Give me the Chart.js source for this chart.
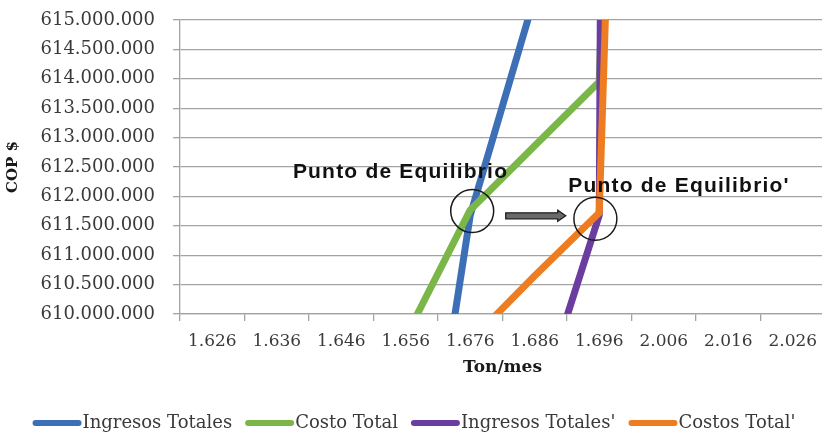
<!DOCTYPE html>
<html lang="es">
<head>
<meta charset="utf-8">
<title>Punto de Equilibrio</title>
<script src="https://cdn.jsdelivr.net/npm/chart.js@4.4.1/dist/chart.umd.min.js"></script>
<style>
  html, body { margin: 0; padding: 0; background: #fff; overflow: hidden; }
  #wrap { width: 822px; height: 434px; overflow: hidden; }
</style>
</head>
<body>
<div id="wrap"><canvas id="equilibrio" width="830" height="434"></canvas></div>
<script>
// Ton/mes (eje de categorías)
var xLabels = ['1.626', '1.636', '1.646', '1.656', '1.676', '1.686', '1.696', '2.006', '2.016', '2.026'];

// COP $ por categoría (null = sin punto)
var ingresosTotales  = [null, null, null, 604570000, 611680000, 615400000, null, null, null, null];
var costoTotal       = [null, null, null, 609610000, 611770000, 612860000, 613950000, 648000000, null, null];
var ingresosTotales2 = [null, null, null, null, null, 608250000, 611680000, 820000000, null, null];
var costosTotal2     = [null, null, null, null, 609540000, 610650000, 611720000, 646500000, null, null];

var yMin = 610000000;
var yMax = 615000000;
var yStep = 500000;

// puntos de equilibrio marcados con círculo [categoría, COP $]
var equilibrio  = [4.03, 611750000];
var equilibrio2 = [5.94, 611620000];

var seriesNames  = ['Ingresos Totales', 'Costo Total', "Ingresos Totales'", "Costos Total'"];
var seriesColors = ['#3D6FB6', '#7AB648', '#6B3D9E', '#EE7D22'];

function fmtCOP(v) {
  return String(Math.round(v)).replace(/\B(?=(\d{3})+(?!\d))/g, '.');
}

function toPoints(arr) {
  return arr.map(function (v, i) { return { x: i, y: v }; });
}

var GRID = '#a3a3a3';
var TICK_COLOR = '#3a3a3a';

// ── anotaciones: textos, círculos y flecha ──────────────────────────
var annotations = {
  id: 'annotations',
  afterDatasetsDraw: function (chart) {
    var ctx = chart.ctx;
    var xs = chart.scales.x, ys = chart.scales.y;
    ctx.save();

    // círculos
    ctx.strokeStyle = '#1a1a1a';
    ctx.lineWidth = 1.5;
    [equilibrio, equilibrio2].forEach(function (p) {
      ctx.beginPath();
      ctx.arc(xs.getPixelForValue(p[0]), ys.getPixelForValue(p[1]), 21.5, 0, Math.PI * 2);
      ctx.stroke();
    });

    // flecha
    var ax1 = xs.getPixelForValue(4.55), ax2 = xs.getPixelForValue(5.48);
    var ay = ys.getPixelForValue(611670000);
    ctx.beginPath();
    ctx.moveTo(ax1, ay - 3);
    ctx.lineTo(ax2 - 8, ay - 3);
    ctx.lineTo(ax2 - 8, ay - 5.5);
    ctx.lineTo(ax2, ay);
    ctx.lineTo(ax2 - 8, ay + 5.5);
    ctx.lineTo(ax2 - 8, ay + 3);
    ctx.lineTo(ax1, ay + 3);
    ctx.closePath();
    ctx.fillStyle = '#6a6a6a';
    ctx.fill();
    ctx.strokeStyle = '#1e1e1e';
    ctx.lineWidth = 1.3;
    ctx.stroke();

    // textos
    ctx.fillStyle = '#111';
    ctx.font = 'bold 21px "Liberation Sans", Arial, sans-serif';
    ctx.letterSpacing = '1.2px';
    ctx.textAlign = 'left';
    ctx.textBaseline = 'alphabetic';
    ctx.fillText('Punto de Equilibrio', xs.getPixelForValue(1.25), ys.getPixelForValue(612310000));
    ctx.fillText("Punto de Equilibrio'", xs.getPixelForValue(5.52), ys.getPixelForValue(612070000));
    ctx.restore();
  }
};

// ── leyenda propia: trazo grueso pegado al texto ────────────────────
var lineLegend = {
  id: 'lineLegend',
  afterDraw: function (chart) {
    var ctx = chart.ctx;
    var swatch = 49, gap = 1, itemGap = 13, y = 423;
    ctx.save();
    ctx.font = '18px "DejaVu Serif", serif';
    var widths = seriesNames.map(function (n) { return swatch + gap + ctx.measureText(n).width; });
    var total = widths.reduce(function (a, b) { return a + b; }, 0) + itemGap * (widths.length - 1);
    var x = 414 - total / 2;
    seriesNames.forEach(function (name, i) {
      ctx.strokeStyle = seriesColors[i];
      ctx.lineWidth = 6;
      ctx.lineCap = 'round';
      ctx.beginPath();
      ctx.moveTo(x + 3, y);
      ctx.lineTo(x + swatch - 3, y);
      ctx.stroke();
      ctx.fillStyle = '#3a3a3a';
      ctx.textBaseline = 'middle';
      ctx.fillText(name, x + swatch + gap, y);
      x += widths[i] + itemGap;
    });
    ctx.restore();
  }
};

var seriesData = [ingresosTotales, costoTotal, ingresosTotales2, costosTotal2];

new Chart(document.getElementById('equilibrio').getContext('2d'), {
  type: 'line',
  data: {
    datasets: seriesData.map(function (arr, i) {
      return {
        label: seriesNames[i],
        data: toPoints(arr),
        borderColor: seriesColors[i],
        backgroundColor: seriesColors[i],
        borderWidth: 7,
        borderJoinStyle: 'round',
        pointRadius: 0,
        fill: false,
        tension: 0,
        clip: 0,
        order: seriesData.length - i
      };
    })
  },
  options: {
    responsive: false,
    animation: false,
    events: [],
    layout: { padding: { top: 20, right: 5, bottom: 50, left: 0 } },
    plugins: {
      legend: { display: false },
      tooltip: { enabled: false }
    },
    scales: {
      x: {
        type: 'linear',
        min: -0.5,
        max: 9.5,
        afterBuildTicks: function (axis) {
          axis.ticks = xLabels.map(function (_, i) { return { value: i }; });
        },
        afterFit: function (axis) {
          axis.height = 70;
          axis.paddingLeft = 0;
          axis.paddingRight = 0;
        },
        grid: { offset: true, drawOnChartArea: false, drawTicks: true, tickLength: 7, color: GRID, lineWidth: 1.3 },
        border: { color: GRID, width: 1.3 },
        ticks: {
          autoSkip: false,
          maxRotation: 0,
          padding: 10,
          color: TICK_COLOR,
          font: { family: '"DejaVu Serif", serif', size: 17 },
          callback: function (v) { return xLabels[v]; }
        },
        title: {
          display: true,
          text: 'Ton/mes',
          color: '#1a1a1a',
          font: { family: '"DejaVu Serif", serif', size: 17, weight: 'bold' },
          padding: { top: 0, bottom: 6 }
        }
      },
      y: {
        min: yMin,
        max: yMax,
        afterFit: function (axis) {
          axis.width = 180;
          axis.paddingTop = 0;
          axis.paddingBottom = 0;
        },
        grid: { color: GRID, lineWidth: 1.3, tickLength: 7 },
        border: { color: GRID, width: 1.3 },
        ticks: {
          stepSize: yStep,
          padding: 18,
          color: TICK_COLOR,
          font: { family: '"DejaVu Serif", serif', size: 18 },
          callback: function (v) { return fmtCOP(v); }
        },
        title: {
          display: true,
          text: 'COP $',
          color: '#1a1a1a',
          font: { family: '"DejaVu Serif", serif', size: 15, weight: 'bold' },
          padding: { top: 4, bottom: 0 }
        }
      }
    }
  },
  plugins: [annotations, lineLegend]
});
</script>
</body>
</html>
